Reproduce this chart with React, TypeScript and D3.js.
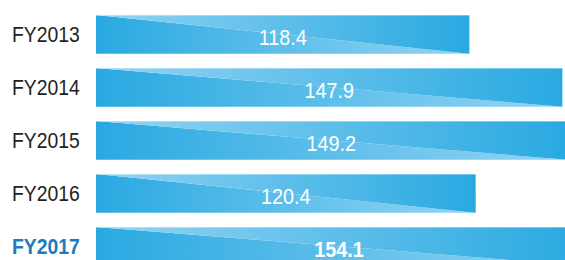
import React from "react";
import * as d3 from "d3";

const years = ["FY2013", "FY2014", "FY2015", "FY2016", "FY2017"];
const values = [118.4, 147.9, 149.2, 120.4, 154.1];
const highlight = ["FY2017"];

const DARK = "#29a9e1";
const LIGHT = "#93d4f3";
const FONT = "'Liberation Sans', Arial, sans-serif";

export default function App() {
  const width = 565;
  const height = 260;
  const x = d3.scaleLinear().domain([0, 150]).range([96, 569]);
  const y = d3
    .scaleBand<string>()
    .domain(years)
    .range([15, 265.7])
    .paddingInner(0.27)
    .paddingOuter(0);
  const bh = y.bandwidth();

  return (
    <svg
      width={width}
      height={height}
      style={{ position: "absolute", left: 0, top: 0, display: "block" }}
    >
      <defs>
        <linearGradient id="darkToLight" x1="0" x2="1" y1="0" y2="0">
          <stop offset="0" stopColor={DARK} />
          <stop offset="1" stopColor={LIGHT} />
        </linearGradient>
        <linearGradient id="lightToDark" x1="0" x2="1" y1="0" y2="0">
          <stop offset="0" stopColor={LIGHT} />
          <stop offset="1" stopColor={DARK} />
        </linearGradient>
      </defs>
      {years.map((yr, i) => {
        const x0 = x(0);
        const x1 = x(values[i]);
        const top = y(yr) as number;
        const bot = top + bh;
        const bold = highlight.includes(yr);
        const lower = `M${x0},${top}L${x1},${bot}L${x0},${bot}Z`;
        const upper = `M${x0},${top}L${x1},${top}L${x1},${bot}Z`;
        return (
          <g key={yr}>
            <path d={lower} fill="url(#darkToLight)" />
            <path d={upper} fill="url(#lightToDark)" />
            <line
              x1={x0}
              x2={x1}
              y1={top + 0.5}
              y2={top + 0.5}
              stroke="#ffffff"
              strokeOpacity={0.35}
            />
            {/* condensed look: Arial squeezed horizontally */}
            <g transform={`translate(12,${top + bh / 2 + 8}) scale(0.88,1)`}>
              <text
                fontFamily={FONT}
                fontSize={22}
                fontWeight={bold ? "bold" : "normal"}
                fill={bold ? "#1a7cbf" : "#231f20"}
              >
                {yr}
              </text>
            </g>
            <g transform={`translate(${(x0 + x1) / 2},${top + bh / 2 + 11}) scale(0.9,1)`}>
              <text
                textAnchor="middle"
                fontFamily={FONT}
                fontSize={22}
                fontWeight={bold ? "bold" : "normal"}
                fill="#ffffff"
              >
                {values[i].toFixed(1)}
              </text>
            </g>
          </g>
        );
      })}
    </svg>
  );
}
